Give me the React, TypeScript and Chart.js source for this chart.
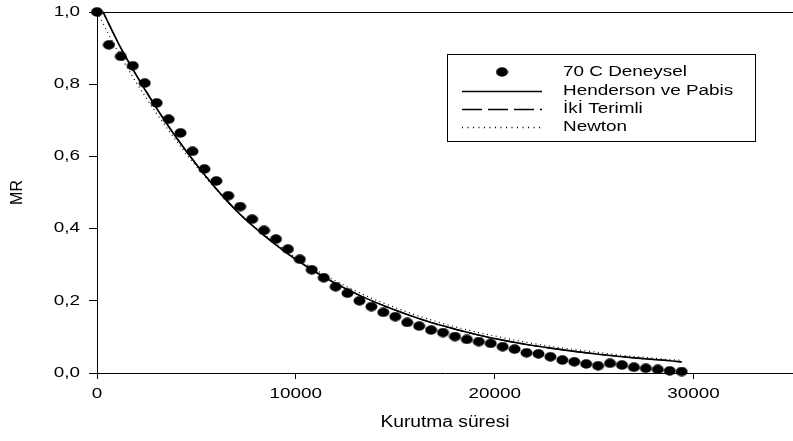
import React, { useEffect, useRef } from "react";
import { Chart, registerables } from "chart.js";

Chart.register(...registerables);

// Drying time (s) of the 70 C experiment
const T_EXP = [
  0, 600, 1200, 1800, 2400, 3000, 3600, 4200, 4800, 5400,
  6000, 6600, 7200, 7800, 8400, 9000, 9600, 10200, 10800, 11400,
  12000, 12600, 13200, 13800, 14400, 15000, 15600, 16200, 16800, 17400,
  18000, 18600, 19200, 19800, 20400, 21000, 21600, 22200, 22800, 23400,
  24000, 24600, 25200, 25800, 26400, 27000, 27600, 28200, 28800, 29400,
];
// Measured moisture ratio
const MR_EXP = [
  1.0, 0.909, 0.877, 0.851, 0.803, 0.748, 0.703, 0.665, 0.614, 0.565,
  0.532, 0.491, 0.461, 0.426, 0.395, 0.371, 0.343, 0.315, 0.286, 0.264,
  0.239, 0.221, 0.2, 0.184, 0.168, 0.156, 0.14, 0.13, 0.119, 0.112,
  0.101, 0.093, 0.087, 0.082, 0.073, 0.066, 0.056, 0.053, 0.045, 0.036,
  0.031, 0.025, 0.02, 0.027, 0.022, 0.016, 0.013, 0.01, 0.006, 0.004,
];

// Model curves sampled along the drying time
const T_FIT = [
  0, 1200, 2400, 3600, 4800, 6000, 7200, 8400, 9600, 10800, 12000, 13200, 14400,
  15600, 16800, 18000, 19200, 20400, 21600, 22800, 24000, 25200, 26400, 27600, 28800, 29400,
];
const MR_HENDERSON = [
  1.035, 0.9, 0.786, 0.683, 0.592, 0.51, 0.439, 0.381, 0.33, 0.286, 0.248, 0.215, 0.187,
  0.162, 0.14, 0.122, 0.105, 0.091, 0.079, 0.069, 0.06, 0.052, 0.045, 0.039, 0.034, 0.031,
];
const MR_IKI_TERIMLI = [
  1.034, 0.901, 0.787, 0.684, 0.592, 0.51, 0.44, 0.381, 0.33, 0.286, 0.248, 0.215, 0.187,
  0.162, 0.14, 0.121, 0.105, 0.091, 0.079, 0.069, 0.06, 0.052, 0.045, 0.039, 0.034, 0.03,
];
const MR_NEWTON = [
  1.0, 0.876, 0.768, 0.672, 0.586, 0.508, 0.44, 0.384, 0.335, 0.292, 0.255, 0.222, 0.194,
  0.169, 0.147, 0.128, 0.112, 0.098, 0.085, 0.074, 0.065, 0.057, 0.049, 0.043, 0.037, 0.035,
];

const X_TICKS = [0, 10000, 20000, 30000];
const Y_TICKS = [0, 0.2, 0.4, 0.6, 0.8, 1.0];

const SERIES_LABELS = ["70 C Deneysel", "Henderson ve Pabis", "İkİ Terimli", "Newton"];
const X_TITLE = "Kurutma süresi";
const Y_TITLE = "MR";

const FONT_FAMILY = "'Liberation Sans', Arial, Helvetica, sans-serif";
const TEXT_STRETCH = 1.35;

function makeDot(): HTMLCanvasElement {
  const c = document.createElement("canvas");
  c.width = 13;
  c.height = 10;
  const g = c.getContext("2d")!;
  g.fillStyle = "#000";
  g.beginPath();
  g.ellipse(6.5, 5, 6, 4.7, 0, 0, Math.PI * 2);
  g.fill();
  return c;
}

function stretchedText(
  ctx: CanvasRenderingContext2D,
  text: string,
  x: number,
  y: number,
  align: CanvasTextAlign,
  size: number,
  sx: number,
  rotate = 0
) {
  ctx.save();
  ctx.font = `${size}px ${FONT_FAMILY}`;
  ctx.fillStyle = "#000";
  ctx.textAlign = align;
  ctx.textBaseline = "middle";
  ctx.translate(x, y);
  if (rotate) ctx.rotate(rotate);
  ctx.scale(sx, 1);
  ctx.fillText(text, 0, 0);
  ctx.restore();
}

export default function App() {
  const ref = useRef<HTMLCanvasElement | null>(null);

  useEffect(() => {
    if (!ref.current) return;
    const dot = makeDot();

    const decorations = {
      id: "decorations",
      afterDraw(chart: any) {
        const { ctx, chartArea, scales } = chart;
        const xs = scales.x;
        const ys = scales.y;

        // top frame line
        ctx.save();
        ctx.strokeStyle = "#000";
        ctx.lineWidth = 1;
        ctx.beginPath();
        ctx.moveTo(chartArea.left, Math.round(chartArea.top) + 0.5);
        ctx.lineTo(chartArea.right, Math.round(chartArea.top) + 0.5);
        ctx.stroke();
        ctx.restore();

        // tick labels
        X_TICKS.forEach((v) => {
          stretchedText(ctx, String(v), xs.getPixelForValue(v), 394, "center", 14, TEXT_STRETCH);
        });
        Y_TICKS.forEach((v) => {
          stretchedText(ctx, v.toFixed(1).replace(".", ","), 80, ys.getPixelForValue(v), "right", 14, TEXT_STRETCH);
        });

        // axis titles
        stretchedText(ctx, X_TITLE, (chartArea.left + chartArea.right) / 2, 423, "center", 16, 1.2);
        stretchedText(ctx, Y_TITLE, 18, (chartArea.top + chartArea.bottom) / 2, "center", 16, 1, -Math.PI / 2);

        // legend
        const bx = 447.5, by = 54.5, bw = 308, bh = 87;
        ctx.save();
        ctx.strokeStyle = "#000";
        ctx.lineWidth = 1;
        ctx.fillStyle = "#fff";
        ctx.fillRect(bx, by, bw, bh);
        ctx.strokeRect(bx, by, bw, bh);
        const rows = [72, 91, 109, 127];
        const dashes = [[], [], [20, 6], [1, 4.5]];
        chart.data.datasets.forEach((ds: any, i: number) => {
          const y = rows[i];
          if (i === 0) {
            ctx.drawImage(dot, 502 - dot.width / 2, y - dot.height / 2);
          } else {
            ctx.save();
            ctx.strokeStyle = "#000";
            ctx.lineWidth = i === 1 ? 1.6 : 1.3;
            ctx.setLineDash(dashes[i]);
            ctx.beginPath();
            ctx.moveTo(462, y + 0.5);
            ctx.lineTo(542, y + 0.5);
            ctx.stroke();
            ctx.restore();
          }
          stretchedText(ctx, ds.label, 563, y, "left", 14, TEXT_STRETCH);
        });
        ctx.restore();
      },
    };

    const chart = new Chart(ref.current, {
      type: "scatter",
      data: {
        datasets: [
          {
            label: SERIES_LABELS[0],
            data: T_EXP.map((t, i) => ({ x: t, y: MR_EXP[i] })),
            showLine: false,
            pointStyle: dot,
            pointRadius: 6,
            backgroundColor: "#000",
            borderColor: "#000",
            clip: false,
            order: 0,
          },
          {
            label: SERIES_LABELS[1],
            data: T_FIT.map((t, i) => ({ x: t, y: MR_HENDERSON[i] })),
            showLine: true,
            borderColor: "#000",
            borderWidth: 1.6,
            pointRadius: 0,
            cubicInterpolationMode: "monotone",
            order: 3,
          },
          {
            label: SERIES_LABELS[2],
            data: T_FIT.map((t, i) => ({ x: t, y: MR_IKI_TERIMLI[i] })),
            showLine: true,
            borderColor: "#000",
            borderWidth: 1.2,
            borderDash: [20, 6],
            pointRadius: 0,
            cubicInterpolationMode: "monotone",
            order: 2,
          },
          {
            label: SERIES_LABELS[3],
            data: T_FIT.map((t, i) => ({ x: t, y: MR_NEWTON[i] })),
            showLine: true,
            borderColor: "#000",
            borderWidth: 1.2,
            borderDash: [1, 3.5],
            pointRadius: 0,
            cubicInterpolationMode: "monotone",
            order: 1,
          },
        ],
      },
      options: {
        responsive: false,
        animation: false,
        events: [],
        layout: { padding: { top: 12, right: 2, left: 0, bottom: 0 } },
        plugins: {
          legend: { display: false },
          tooltip: { enabled: false },
        },
        scales: {
          x: {
            type: "linear",
            min: 0,
            max: 35000,
            afterBuildTicks: (s: any) => {
              s.ticks = X_TICKS.map((v) => ({ value: v }));
            },
            afterFit: (s: any) => {
              s.height = 68;
            },
            ticks: { display: false },
            grid: {
              drawOnChartArea: false,
              drawTicks: true,
              tickLength: 6,
              color: "#000",
              lineWidth: 1,
            },
            border: { display: true, color: "#000", width: 1 },
          },
          y: {
            type: "linear",
            min: 0,
            max: 1,
            afterBuildTicks: (s: any) => {
              s.ticks = Y_TICKS.map((v) => ({ value: v }));
            },
            afterFit: (s: any) => {
              s.width = 97;
            },
            ticks: { display: false },
            grid: {
              drawOnChartArea: false,
              drawTicks: true,
              tickLength: 8,
              color: "#000",
              lineWidth: 1,
            },
            border: { display: true, color: "#000", width: 1 },
          },
        },
      },
      plugins: [decorations],
    } as any);

    return () => chart.destroy();
  }, []);

  return (
    <div
      style={{
        position: "fixed",
        left: 0,
        top: 0,
        width: 793,
        height: 441,
        overflow: "hidden",
        background: "#fff",
      }}
    >
      <canvas ref={ref} width={800} height={441} style={{ display: "block" }} />
    </div>
  );
}
